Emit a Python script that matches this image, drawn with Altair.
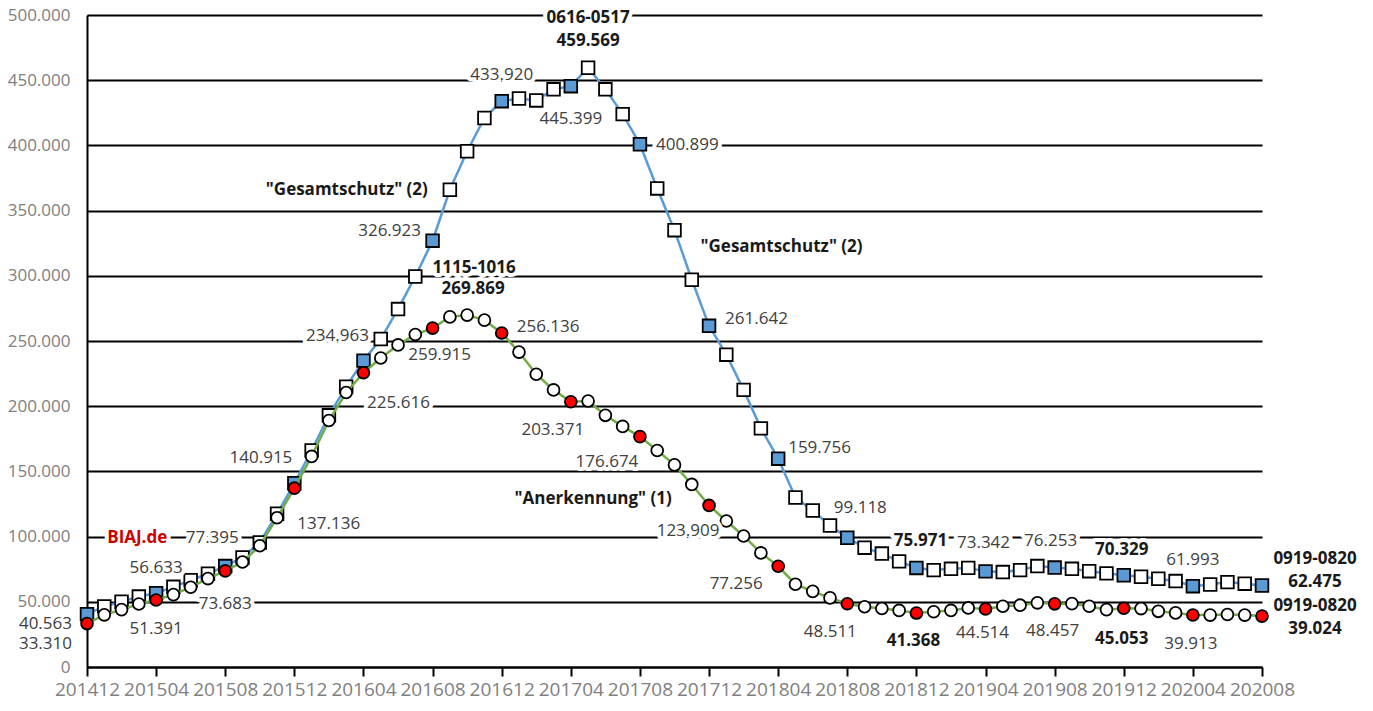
import altair as alt
import pandas as pd

# ---------------- data ----------------
tick_labels = ["201412", "201504", "201508", "201512", "201604", "201608", "201612",
               "201704", "201708", "201712", "201804", "201808", "201812", "201904",
               "201908", "201912", "202004", "202008"]

# "Gesamtschutz" (2), monthly 201412 .. 202008
gesamtschutz = [
    40563, 46500, 50000, 54000, 56633, 61500, 66500, 71500, 77395, 84000,
    95500, 117500, 140915, 166000, 193000, 215000, 234963, 251500, 274500, 299500,
    326923, 366000, 395500, 421000, 433920, 436000, 434500, 443000, 445399, 459569,
    443000, 424000, 400899, 367000, 335000, 297000, 261642, 239500, 212500, 183000,
    159756, 130000, 120000, 108500, 99118, 91500, 87000, 81000, 75971, 74300,
    75300, 76000, 73342, 72800, 74300, 77400, 76253, 75300, 73500, 71800,
    70329, 69200, 67700, 65900, 61993, 63300, 65100, 63900, 62475,
]

# "Anerkennung" (1), monthly 201412 .. 202008
anerkennung = [
    33310, 40000, 44000, 48300, 51391, 55500, 61200, 67800, 73683, 80500,
    93000, 114500, 137136, 161500, 189000, 210500, 225616, 237000, 247000, 255000,
    259915, 268500, 269869, 266000, 256136, 241500, 224500, 212500, 203371, 204000,
    193000, 184500, 176674, 166000, 155000, 140000, 123909, 112000, 100500, 87500,
    77256, 63500, 58000, 53000, 48511, 46200, 44900, 43400, 41368, 42400,
    43400, 45300, 44514, 46600, 47400, 49200, 48457, 48600, 46600, 44000,
    45053, 44800, 42700, 41500, 39913, 39800, 40300, 39800, 39024,
]

highlight_idx = [0, 4, 8, 12, 16, 20, 24, 28, 32, 36, 40, 44, 48, 52, 56, 60, 64, 68]
g_peak_idx, g_peak_period = 29, "0616-0517"
a_peak_idx, a_peak_period = 22, "1115-1016"
end_period = "0919-0820"
g_name = '"Gesamtschutz" (2)'
a_name = '"Anerkennung" (1)'
source_label = "BIAJ.de"

# ---------------- style ----------------
FONT = "Open Sans"
BLUE = "#5B9BD5"
GREEN = "#70AD47"
RED = "#FF0000"
LABEL_COLOR = "#404040"
BOLD_COLOR = "#1a1a1a"
AXIS_COLOR = "#808080"


def fmt(v):
    return f"{v:,}".replace(",", ".")


n = len(gesamtschutz)
df_g = pd.DataFrame({"i": list(range(n)), "v": gesamtschutz,
                     "hl": [i in highlight_idx for i in range(n)]})
df_a = pd.DataFrame({"i": list(range(n)), "v": anerkennung,
                     "hl": [i in highlight_idx for i in range(n)]})

label_expr = "[" + ",".join(f"'{t}'" for t in tick_labels) + "][datum.value/4]"

X = alt.X("i:Q",
          scale=alt.Scale(domain=[0, n - 1], nice=False, zero=False),
          axis=alt.Axis(values=highlight_idx, labelExpr=label_expr, title=None,
                        grid=False, domainColor="black", domainWidth=2,
                        tickColor="black", tickWidth=2, tickSize=9,
                        labelFont=FONT, labelFontSize=19, labelColor=AXIS_COLOR,
                        labelPadding=4, labelFlush=False))
Y = alt.Y("v:Q",
          scale=alt.Scale(domain=[0, 500000], nice=False),
          axis=alt.Axis(values=list(range(0, 500001, 50000)),
                        labelExpr="replace(format(datum.value, ','), ',', '.')",
                        title=None, grid=True, gridColor="black", gridWidth=2,
                        domainColor="black", domainWidth=2, ticks=False,
                        labelFont=FONT, labelFontSize=17, labelColor=AXIS_COLOR,
                        labelPadding=17))

line_g = alt.Chart(df_g).mark_line(color=BLUE, strokeWidth=2.5).encode(x=X, y=Y)
pts_g = alt.Chart(df_g).mark_point(shape="square", filled=True, size=160,
                                   stroke="black", strokeWidth=1.8, opacity=1).encode(
    x=X, y=Y, fill=alt.condition("datum.hl", alt.value(BLUE), alt.value("white")))
line_a = alt.Chart(df_a).mark_line(color=GREEN, strokeWidth=2.5).encode(x=X, y=Y)
pts_a = alt.Chart(df_a).mark_point(shape="circle", filled=True, size=140,
                                   stroke="black", strokeWidth=1.8, opacity=1).encode(
    x=X, y=Y, fill=alt.condition("datum.hl", alt.value(RED), alt.value("white")))

halo_layers = []
text_layers = []


def label(values, i, text, dx, dy, align="center", bold=False, color=LABEL_COLOR,
          halo=True):
    df = pd.DataFrame({"i": [i], "v": [values[i]], "t": [text]})
    base = alt.Chart(df).encode(x=X, y=Y, text="t:N")
    kw = dict(dx=dx, dy=dy, align=align, baseline="middle", font=FONT,
              fontSize=17, fontWeight="bold" if bold else "normal")
    if halo:
        halo_layers.append(base.mark_text(stroke="white", strokeWidth=8,
                                          strokeJoin="round", fill="white", **kw))
    text_layers.append(base.mark_text(fill=color, **kw))


# label offsets (pixels) for highlighted points
g_off = {0: (-15, 10, "right"), 4: (0, -25, "center"), 8: (-13, -28, "center"),
         12: (-2, -25, "right"), 16: (-26, -25, "center"), 20: (-43, -10, "center"),
         24: (0, -26, "center"), 28: (0, 33, "center"), 32: (16, 1, "left"),
         36: (16, -7, "left"), 40: (10, -11, "left"), 44: (13, -30, "center"),
         48: (4, -27, "center"), 52: (-2, -28, "center"), 56: (-4, -27, "center"),
         60: (-2, -25, "center"), 64: (0, -26, "center")}
a_off = {0: (-15, 20, "right"), 4: (0, 29, "center"), 8: (0, 33, "center"),
         12: (3, 36, "left"), 16: (35, 30, "center"), 20: (7, 27, "center"),
         24: (15, -6, "left"), 28: (-18, 28, "center"), 32: (-33, 25, "center"),
         36: (-21, 26, "center"), 40: (-42, 18, "center"), 44: (-17, 28, "center"),
         48: (-3, 28, "center"), 52: (-3, 24, "center"), 56: (-2, 27, "center"),
         60: (-2, 31, "center"), 64: (-2, 29, "center")}
bold_idx = [48, 60]

for i, (dx, dy, al) in g_off.items():
    label(gesamtschutz, i, fmt(gesamtschutz[i]), dx, dy, al, bold=i in bold_idx,
          color=BOLD_COLOR if i in bold_idx else LABEL_COLOR)
for i, (dx, dy, al) in a_off.items():
    label(anerkennung, i, fmt(anerkennung[i]), dx, dy, al, bold=i in bold_idx,
          color=BOLD_COLOR if i in bold_idx else LABEL_COLOR)

# peaks
label(gesamtschutz, g_peak_idx, g_peak_period, 0, -50, bold=True, color=BOLD_COLOR)
label(gesamtschutz, g_peak_idx, fmt(gesamtschutz[g_peak_idx]), 0, -27, bold=True,
      color=BOLD_COLOR)
label(anerkennung, a_peak_idx, a_peak_period, 7, -47, bold=True, color=BOLD_COLOR)
label(anerkennung, a_peak_idx, fmt(anerkennung[a_peak_idx]), 6, -26, bold=True,
      color=BOLD_COLOR)

# end values
last = n - 1
label(gesamtschutz, last, end_period, 53, -27, bold=True, color=BOLD_COLOR)
label(gesamtschutz, last, fmt(gesamtschutz[last]), 53, -4, bold=True, color=BOLD_COLOR)
label(anerkennung, last, end_period, 53, -10, bold=True, color=BOLD_COLOR)
label(anerkennung, last, fmt(anerkennung[last]), 53, 13, bold=True, color=BOLD_COLOR)

# series names and source
label(gesamtschutz, 21, g_name, -22, 0, "right", bold=True, color=BOLD_COLOR)
label(gesamtschutz, 34, g_name, 26, 17, "left", bold=True, color=BOLD_COLOR)
label(anerkennung, 35, a_name, -20, 15, "right", bold=True, color=BOLD_COLOR)
label(gesamtschutz, 8, source_label, -88, -28, bold=True, color="#CC0000")

chart = alt.layer(line_g, pts_g, line_a, pts_a, *halo_layers, *text_layers).properties(
    width=1175, height=652,
    padding={"left": 79, "top": 7, "right": 100, "bottom": 35},
    autosize=alt.AutoSizeParams(type="none"),
    background="white",
).configure_view(strokeWidth=0)

chart.save("out.html", embed_options={"renderer": "svg", "actions": False})
